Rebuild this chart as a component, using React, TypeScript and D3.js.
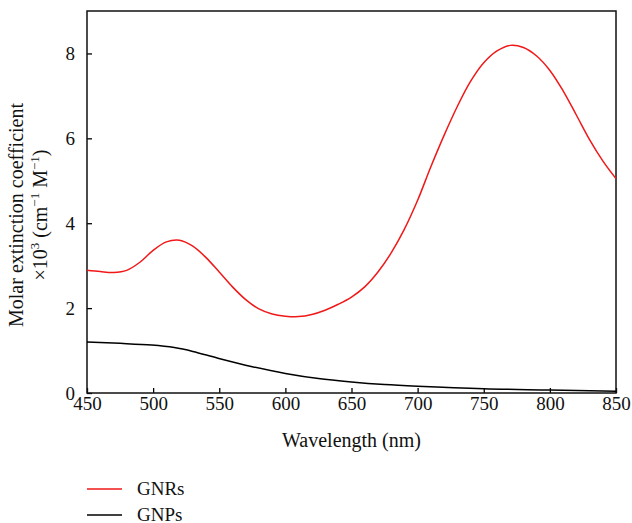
import * as d3 from "d3";
import { useEffect, useRef } from "react";

// GNRs spectrum (wavelength nm, molar extinction x10^3)
const gnrWave = [450, 460, 470, 480, 490, 500, 510, 520, 530, 540, 550, 560, 570, 580, 590, 600, 610, 620, 630, 640, 650, 660, 670, 680, 690, 700, 710, 720, 730, 740, 750, 760, 770, 780, 790, 800, 810, 820, 830, 840, 850];
const gnrValue = [2.89, 2.86, 2.84, 2.89, 3.08, 3.36, 3.56, 3.6, 3.46, 3.19, 2.85, 2.5, 2.2, 1.98, 1.86, 1.81, 1.8, 1.85, 1.95, 2.09, 2.26, 2.5, 2.85, 3.3, 3.86, 4.54, 5.33, 6.07, 6.75, 7.34, 7.78, 8.06, 8.19, 8.14, 7.94, 7.6, 7.12, 6.55, 5.97, 5.47, 5.05];

// GNPs spectrum
const gnpWave = [450, 475, 499, 516, 530, 549, 575, 600, 625, 650, 675, 700, 750, 800, 850];
const gnpValue = [1.2, 1.17, 1.13, 1.07, 0.98, 0.82, 0.62, 0.46, 0.34, 0.26, 0.2, 0.16, 0.1, 0.07, 0.04];

const xTicks = [450, 500, 550, 600, 650, 700, 750, 800, 850];
const yTicks = [0, 2, 4, 6, 8];

const seriesNames = ["GNRs", "GNPs"];
const seriesColors = ["#f01818", "#000000"];

const App = () => {
  const ref = useRef<SVGSVGElement>(null);

  useEffect(() => {
    const margin = { top: 11, right: 16, bottom: 130, left: 87 },
      width = 632 - margin.left - margin.right,
      height = 523 - margin.top - margin.bottom;
    const font = "'Liberation Serif', 'DejaVu Serif', serif";

    const root = d3.select(ref.current);
    root.selectAll("*").remove();
    const svg = root
      .append("g")
      .attr("transform", `translate(${margin.left},${margin.top})`);

    const x = d3.scaleLinear().domain([450, 850]).range([0, width]);
    const y = d3.scaleLinear().domain([0, 9]).range([height, 0]);

    // X axis, ticks pointing inwards
    const xAxis = svg
      .append("g")
      .attr("transform", `translate(0, ${height})`)
      .call(d3.axisBottom(x).tickValues(xTicks).tickSizeInner(-5).tickSizeOuter(0).tickPadding(4));
    xAxis.select(".domain").remove();
    xAxis.selectAll("line").attr("stroke-width", 1.3);
    xAxis.selectAll("text").attr("font-family", font).attr("font-size", 19).attr("fill", "#111");

    // Y axis
    const yAxis = svg
      .append("g")
      .call(d3.axisLeft(y).tickValues(yTicks).tickSizeInner(-5).tickSizeOuter(0).tickPadding(12));
    yAxis.select(".domain").remove();
    yAxis.selectAll("line").attr("stroke-width", 1.3);
    yAxis.selectAll("text").attr("font-family", font).attr("font-size", 19).attr("fill", "#111");

    // frame
    svg
      .append("rect")
      .attr("x", 0)
      .attr("y", 0)
      .attr("width", width)
      .attr("height", height)
      .attr("fill", "none")
      .attr("stroke", "#111")
      .attr("stroke-width", 1.5);

    const line = d3
      .line<[number, number]>()
      .x((d) => x(d[0]))
      .y((d) => y(d[1]))
      .curve(d3.curveCatmullRom.alpha(0.5));

    const series = [
      gnrWave.map((w, i) => [w, gnrValue[i]] as [number, number]),
      gnpWave.map((w, i) => [w, gnpValue[i]] as [number, number]),
    ];

    svg
      .selectAll(".series")
      .data(series)
      .join("path")
      .attr("class", "series")
      .attr("d", (d) => line(d))
      .attr("fill", "none")
      .attr("stroke", (_d, i) => seriesColors[i])
      .attr("stroke-width", 1.5);

    // axis titles
    svg
      .append("text")
      .attr("x", width / 2)
      .attr("y", height + 54)
      .attr("text-anchor", "middle")
      .attr("font-family", font)
      .attr("font-size", 20)
      .attr("fill", "#111")
      .text("Wavelength (nm)");

    const yTitle = svg
      .append("text")
      .attr("transform", `translate(${-64}, ${204}) rotate(-90)`)
      .attr("text-anchor", "middle")
      .attr("font-family", font)
      .attr("font-size", 20)
      .attr("fill", "#111");
    yTitle.append("tspan").attr("x", 0).attr("y", 0).text("Molar extinction coefficient");
    const t2 = yTitle.append("tspan").attr("x", 0).attr("y", 24);
    t2.append("tspan").text("×10");
    t2.append("tspan").attr("dy", -8).attr("font-size", 13).text("3");
    t2.append("tspan").attr("dy", 8).text(" (cm");
    t2.append("tspan").attr("dy", -8).attr("font-size", 13).text("−1");
    t2.append("tspan").attr("dy", 8).text(" M");
    t2.append("tspan").attr("dy", -8).attr("font-size", 13).text("−1");
    t2.append("tspan").attr("dy", 8).text(")");

    // legend
    const legend = root.append("g").attr("transform", "translate(87, 489)");
    const items = legend
      .selectAll("g")
      .data(seriesNames)
      .join("g")
      .attr("transform", (_d, i) => `translate(0, ${i * 26})`);
    items
      .append("line")
      .attr("x1", 0)
      .attr("x2", 35)
      .attr("y1", 0)
      .attr("y2", 0)
      .attr("stroke", (_d, i) => seriesColors[i])
      .attr("stroke-width", 1.5);
    items
      .append("text")
      .attr("x", 50)
      .attr("y", 6)
      .attr("font-family", font)
      .attr("font-size", 19)
      .attr("fill", "#111")
      .text((d) => d);
  }, []);

  return (
    <svg
      ref={ref}
      width={632}
      height={523}
      style={{ position: "absolute", left: 0, top: 0, background: "#fff" }}
    />
  );
};

export default App;
